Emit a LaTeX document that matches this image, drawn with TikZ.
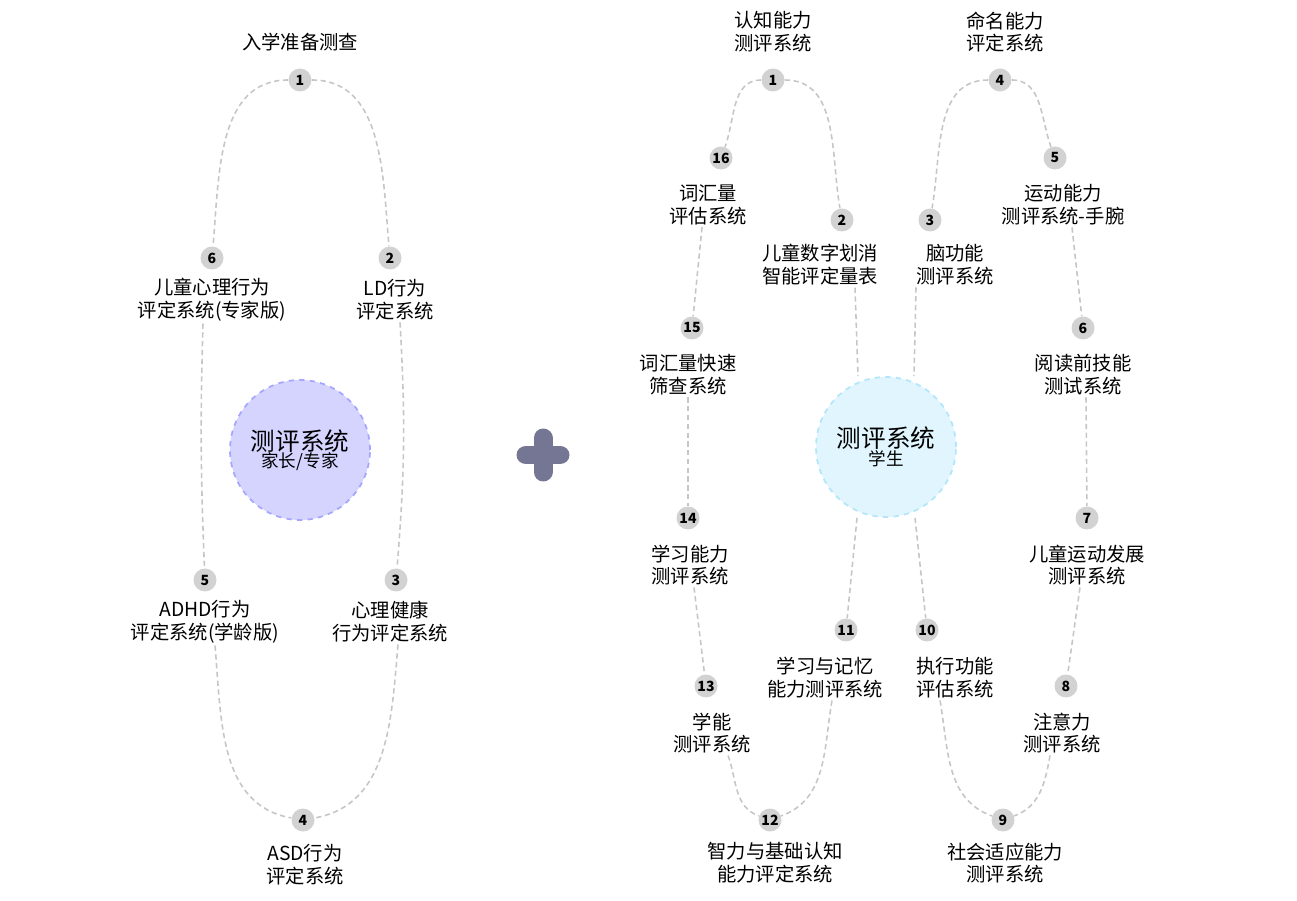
\documentclass[tikz,border=0pt]{standalone}
\usepackage{fontspec}
\setmainfont{Noto Sans CJK SC}
\usetikzlibrary{positioning}
\tikzset{
  badge/.style={circle,fill=gray!35,inner sep=0pt,minimum size=0.46cm,font=\fontsize{8}{9}\selectfont\bfseries},
  txt/.style={align=center,font=\fontsize{11}{13}\selectfont,inner sep=1pt},
  conn/.style={draw=gray!45,line width=0.9pt,dash pattern=on 3pt off 2pt},
}
\begin{document}
\begin{tikzpicture}[x=0.02cm,y=-0.02cm]
\useasboundingbox (0,0) rectangle (1297,901);
% left group
\node[circle,minimum size=2.8cm,fill=blue!17,draw=blue!35,line width=1pt,dashed,align=center] (lc) at (300,450)
  {{\fontsize{14}{16}\selectfont 测评系统}\\[-2pt]{\fontsize{10}{12}\selectfont 家长/专家}};
\foreach \n/\x/\y in {1/300/80,2/390/258,3/396/580,4/303/820,5/205/580,6/212/258}
  \node[badge] (lb\n) at (\x,\y) {\n};
\node[txt] (lt1) at (300,42) {入学准备测查};
\node[txt] (lt2) at (395,300) {LD行为\\评定系统};
\node[txt] (lt6) at (212,300) {儿童心理行为\\评定系统(专家版)};
\node[txt] (lt5) at (205,622) {ADHD行为\\评定系统(学龄版)};
\node[txt] (lt3) at (390,622) {心理健康\\行为评定系统};
\node[txt] (lt4) at (305,865) {ASD行为\\评定系统};
\draw[conn] (lb1) to[out=0,in=95] (lb2);
\draw[conn] (lb1) to[out=180,in=85] (lb6);
\draw[conn] (lt2.south -| 400,0) to[bend left=4] (lb3);
\draw[conn] (lt6.south -| 203,0) to[bend right=2] (lb5);
\draw[conn] (lt3.south -| 398,0) to[out=-95,in=10] (lb4);
\draw[conn] (lt5.south -| 215,0) to[out=-85,in=170] (lb4);
% plus sign
\draw[line width=0.38cm,color=gray!50!blue!40!black!60,line cap=round] (526,455) -- (560,455) (543,438) -- (543,472);
% right group
\node[circle,minimum size=2.8cm,fill=cyan!12,draw=cyan!30,line width=1pt,dashed,align=center] (rc) at (886,447)
  {{\fontsize{14}{16}\selectfont 测评系统}\\[-2pt]{\fontsize{10}{12}\selectfont 学生}};
\foreach \n/\x/\y in {1/773/80,16/721/158,2/842/220,3/930/220,4/1000/80,5/1055/158,15/692/328,6/1083/328,
  14/688/518,7/1087/518,11/846/630,10/927/630,13/706/686,8/1066/686,12/770/820,9/1003/820}
  \node[badge] (rb\n) at (\x,\y) {\n};
\node[txt] (rt1) at (773,32) {认知能力\\测评系统};
\node[txt] (rt16) at (708,205) {词汇量\\评估系统};
\node[txt] (rt2) at (820,265) {儿童数字划消\\智能评定量表};
\node[txt] (rt3) at (955,265) {脑功能\\测评系统};
\node[txt] (rt4) at (1005,32) {命名能力\\评定系统};
\node[txt] (rt5) at (1063,205) {运动能力\\测评系统-手腕};
\node[txt] (rt15) at (688,375) {词汇量快速\\筛查系统};
\node[txt] (rt6) at (1083,375) {阅读前技能\\测试系统};
\node[txt] (rt14) at (690,565) {学习能力\\测评系统};
\node[txt] (rt7) at (1087,565) {儿童运动发展\\测评系统};
\node[txt] (rt11) at (825,678) {学习与记忆\\能力测评系统};
\node[txt] (rt10) at (955,678) {执行功能\\评估系统};
\node[txt] (rt13) at (712,733) {学能\\测评系统};
\node[txt] (rt8) at (1062,733) {注意力\\测评系统};
\node[txt] (rt12) at (775,863) {智力与基础认知\\能力评定系统};
\node[txt] (rt9) at (1005,863) {社会适应能力\\测评系统};
\draw[conn] (rb1) to[out=180,in=70] (rb16);
\draw[conn] (rb1) to[out=0,in=100] (rb2);
\draw[conn] (rb4) to[out=180,in=80] (rb3);
\draw[conn] (rb4) to[out=0,in=110] (rb5);
\draw[conn] (rt2.south -| 855,0) -- (rc.north -| 858,0);
\draw[conn] (rt3.south -| 916,0) -- (rc.north -| 914,0);
\draw[conn] (rc.south -| 857,0) -- (rb11);
\draw[conn] (rc.south -| 915,0) -- (rb10);
\draw[conn] (rt16.south -| 702,0) -- (rb15);
\draw[conn] (rt15.south -| 688,0) -- (rb14);
\draw[conn] (rt14.south -| 694,0) -- (rb13);
\draw[conn] (rt13.south -| 728,0) to[out=-70,in=160] (rb12);
\draw[conn] (rt11.south -| 832,0) to[out=-100,in=20] (rb12);
\draw[conn] (rt10.south -| 940,0) to[out=-80,in=160] (rb9);
\draw[conn] (rt8.south -| 1050,0) to[out=-100,in=20] (rb9);
\draw[conn] (rt7.south -| 1080,0) -- (rb8);
\draw[conn] (rt6.south -| 1086,0) -- (rb7);
\draw[conn] (rt5.south -| 1072,0) -- (rb6);
\end{tikzpicture}
\end{document}
